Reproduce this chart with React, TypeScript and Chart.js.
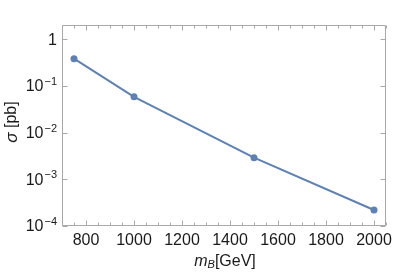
import React, { useEffect, useRef } from "react";
import { Chart, registerables } from "chart.js";

Chart.register(...registerables);

const massValues = [750, 1000, 1500, 2000];
const sigmaValues = [0.38, 0.058, 0.0029, 0.00022];
const xMajorTicks = [800, 1000, 1200, 1400, 1600, 1800, 2000];
const xMinorTicks = [700, 750, 850, 900, 950, 1050, 1100, 1150, 1250, 1300, 1350, 1450, 1500, 1550, 1650, 1700, 1750, 1850, 1900, 1950, 2050];
const yMajorTicks = [1e-4, 1e-3, 1e-2, 1e-1, 1];
const yTickExponents = ["−4", "−3", "−2", "−1", ""];

const FONT = "'Liberation Sans', Arial, sans-serif";
const LINE_COLOR = "#5E81B5";
const FRAME_COLOR = "#a8a8a8";
const TEXT_COLOR = "#1a1a1a";

const framePlugin = {
  id: "framePlugin",
  afterDraw(chart: any) {
    const ctx = chart.ctx;
    const { left, right, top, bottom } = chart.chartArea;
    const xs = chart.scales.x;
    const ys = chart.scales.y;
    ctx.save();
    ctx.strokeStyle = FRAME_COLOR;
    ctx.lineWidth = 1;
    const L = Math.round(left) + 0.5;
    const R = Math.round(right) - 0.5;
    const T = Math.round(top) + 0.5;
    const B = Math.round(bottom) - 0.5;
    ctx.beginPath();
    ctx.rect(L, T, R - L, B - T);
    ctx.stroke();
    ctx.beginPath();
    xMajorTicks.forEach((v) => {
      const p = Math.round(xs.getPixelForValue(v)) + 0.5;
      ctx.moveTo(p, B); ctx.lineTo(p, B - 5);
      ctx.moveTo(p, T); ctx.lineTo(p, T + 5);
    });
    xMinorTicks.forEach((v) => {
      const p = Math.round(xs.getPixelForValue(v)) + 0.5;
      ctx.moveTo(p, B); ctx.lineTo(p, B - 3);
      ctx.moveTo(p, T); ctx.lineTo(p, T + 3);
    });
    yMajorTicks.forEach((v) => {
      const p = Math.round(ys.getPixelForValue(v)) + 0.5;
      ctx.moveTo(L, p); ctx.lineTo(L + 5, p);
      ctx.moveTo(R, p); ctx.lineTo(R - 5, p);
    });
    ctx.stroke();

    // y tick labels
    ctx.fillStyle = TEXT_COLOR;
    ctx.textBaseline = "middle";
    ctx.textAlign = "right";
    yMajorTicks.forEach((v, i) => {
      const p = ys.getPixelForValue(v);
      const x0 = left - 5;
      const exp = yTickExponents[i];
      if (!exp) {
        ctx.font = `16px ${FONT}`;
        ctx.fillText("1", x0, p + 2);
      } else {
        ctx.font = `11px ${FONT}`;
        const sw = ctx.measureText(exp).width;
        ctx.fillText(exp, x0, p - 4);
        ctx.font = `16px ${FONT}`;
        ctx.fillText("10", x0 - sw - 1, p + 1);
      }
    });

    // y axis title: σ [pb]
    ctx.save();
    ctx.translate(12, 122);
    ctx.rotate(-Math.PI / 2);
    ctx.textAlign = "left";
    ctx.textBaseline = "middle";
    ctx.font = `italic 17px ${FONT}`;
    const s1 = "σ";
    const w1 = ctx.measureText(s1).width;
    ctx.font = `16px ${FONT}`;
    const s2 = " [pb]";
    const w2 = ctx.measureText(s2).width;
    const start = -(w1 + w2) / 2;
    ctx.font = `italic 17px ${FONT}`;
    ctx.fillText(s1, start, 0);
    ctx.font = `16px ${FONT}`;
    ctx.fillText(s2, start + w1, 0);
    ctx.restore();

    // x axis title: m_B[GeV]
    ctx.textAlign = "left";
    ctx.textBaseline = "alphabetic";
    ctx.font = `italic 16px ${FONT}`;
    const m = "m";
    const wm = ctx.measureText(m).width;
    ctx.font = `italic 11px ${FONT}`;
    const sub = "B";
    const wb = ctx.measureText(sub).width;
    ctx.font = `16px ${FONT}`;
    const gev = "[GeV]";
    const wg = ctx.measureText(gev).width;
    const total = wm + wb + wg;
    const cx = (left + right) / 2 + 1;
    const by = 266;
    let x = cx - total / 2;
    ctx.font = `italic 16px ${FONT}`;
    ctx.fillText(m, x, by);
    x += wm;
    ctx.font = `italic 11px ${FONT}`;
    ctx.fillText(sub, x, by + 2);
    x += wb;
    ctx.font = `16px ${FONT}`;
    ctx.fillText(gev, x, by);
    ctx.restore();
  },
};

export default function App() {
  const canvasRef = useRef<HTMLCanvasElement | null>(null);

  useEffect(() => {
    if (!canvasRef.current) return;
    const chart = new Chart(canvasRef.current, {
      type: "line",
      data: {
        datasets: [
          {
            data: massValues.map((m, i) => ({ x: m, y: sigmaValues[i] })),
            borderColor: LINE_COLOR,
            backgroundColor: LINE_COLOR,
            borderWidth: 2,
            pointRadius: 3.5,
            pointBorderWidth: 0,
            pointBackgroundColor: LINE_COLOR,
            tension: 0,
          },
        ],
      },
      options: {
        animation: false,
        responsive: false,
        maintainAspectRatio: false,
        layout: { padding: { top: 25, right: 29, left: 0, bottom: 0 } },
        plugins: { legend: { display: false }, tooltip: { enabled: false } },
        scales: {
          x: {
            type: "linear",
            min: 700,
            max: 2050,
            grid: { display: false, drawTicks: false },
            border: { display: false },
            afterBuildTicks: (scale: any) => {
              scale.ticks = xMajorTicks.map((v) => ({ value: v }));
            },
            afterFit: (scale: any) => {
              scale.height = 48;
            },
            ticks: {
              padding: 5,
              maxRotation: 0,
              autoSkip: false,
              color: TEXT_COLOR,
              font: { family: FONT, size: 16 },
              callback: (v: any) => String(v),
            },
          },
          y: {
            type: "logarithmic",
            min: 1e-4,
            max: 2,
            grid: { display: false, drawTicks: false },
            border: { display: false },
            afterBuildTicks: (scale: any) => {
              scale.ticks = yMajorTicks.map((v) => ({ value: v }));
            },
            afterFit: (scale: any) => {
              scale.width = 62;
            },
            ticks: { display: false },
          },
        },
      },
      plugins: [framePlugin],
    });
    return () => chart.destroy();
  }, []);

  return (
    <div style={{ position: "fixed", left: 0, top: 0, width: 415, height: 274, background: "#fff" }}>
      <canvas ref={canvasRef} width={415} height={274} style={{ display: "block", width: 415, height: 274 }} />
    </div>
  );
}
